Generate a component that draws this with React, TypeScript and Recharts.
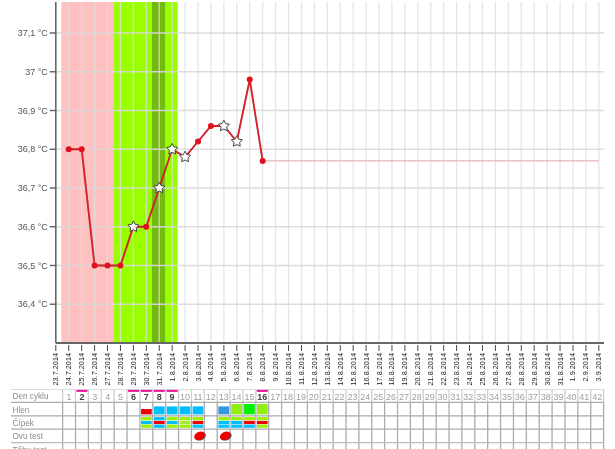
import React from "react";
import {
  ComposedChart, Line, XAxis, YAxis, ReferenceArea, ReferenceLine, Scatter,
} from "recharts";

const dates = [
  "23.7.2014","24.7.2014","25.7.2014","26.7.2014","27.7.2014","28.7.2014","29.7.2014","30.7.2014","31.7.2014",
  "1.8.2014","2.8.2014","3.8.2014","4.8.2014","5.8.2014","6.8.2014","7.8.2014","8.8.2014","9.8.2014","10.8.2014",
  "11.8.2014","12.8.2014","13.8.2014","14.8.2014","15.8.2014","16.8.2014","17.8.2014","18.8.2014","19.8.2014",
  "20.8.2014","21.8.2014","22.8.2014","23.8.2014","24.8.2014","25.8.2014","26.8.2014","27.8.2014","28.8.2014",
  "29.8.2014","30.8.2014","31.8.2014","1.9.2014","2.9.2014","3.9.2014",
];
const temperatures = [36.8, 36.8, 36.5, 36.5, 36.5, 36.6, 36.6, 36.7, 36.8, 36.78, 36.82, 36.86, 36.86, 36.82, 36.98, 36.77];
const starDays = [6, 8, 9, 10, 13, 14];
const lastValue = 36.77;
const yTicks = [36.4, 36.5, 36.6, 36.7, 36.8, 36.9, 37, 37.1];
const yLabels = ["36,4 °C", "36,5 °C", "36,6 °C", "36,7 °C", "36,8 °C", "36,9 °C", "37 °C", "37,1 °C"];

const rowLabels = ["Den cyklu", "Hlen", "Čípek", "Ovu test", "Těhu test"];
const boldDays = [2, 6, 7, 8, 9, 16];
const RED = "#f00000", CYAN = "#00bfff", LIME = "#99f000", PALE = "#a5e83c";
const hlenDays = [7, 8, 9, 10, 11, 13, 14, 15, 16];
const hlenColors = [RED, CYAN, CYAN, CYAN, CYAN, "#3399dd", "#90ee10", "#00f000", "#90ee10"];
const cipekDays = [7, 8, 9, 10, 11, 13, 14, 15, 16];
const cipekTop = [LIME, CYAN, LIME, LIME, LIME, LIME, LIME, LIME, LIME];
const cipekMid = [CYAN, RED, CYAN, PALE, RED, CYAN, CYAN, RED, RED];
const cipekBottom = [LIME, CYAN, LIME, LIME, CYAN, CYAN, CYAN, CYAN, LIME];
const ovuDays = [11, 13];

const indices = dates.map((_, i) => i);
const chartData = dates.map((d, i) => {
  const t = i >= 1 && i <= temperatures.length ? temperatures[i - 1] : null;
  const rest = i >= temperatures.length ? lastValue : null;
  return { i, date: d, t, rest, star: starDays.includes(i) };
});
const dayList = Array.from({ length: 42 }, (_, i) => i + 1);
const columnEdges = Array.from({ length: 43 }, (_, i) => i + 0.5);
const rowEdges = [0, 1, 2, 3, 4, 5];

const starPath = (cx: number, cy: number, R: number, r: number) => {
  let d = "";
  for (let k = 0; k < 10; k++) {
    const rad = k % 2 === 0 ? R : r;
    const a = -Math.PI / 2 + (k * Math.PI) / 5;
    d += (k === 0 ? "M" : "L") + (cx + rad * Math.cos(a)).toFixed(2) + " " + (cy + rad * Math.sin(a)).toFixed(2);
  }
  return d + "Z";
};

const TempDot = (p: any) => {
  const { cx, cy, payload } = p;
  if (cx == null || cy == null || payload.t == null) return <g />;
  if (payload.star)
    return <path d={starPath(cx, cy, 5.8, 3)} fill="#fff" stroke="#444" strokeWidth={1} />;
  return <circle cx={cx} cy={cy} r={3} fill="#e0101c" />;
};

const DateTick = (p: any) => {
  const { x, y, payload } = p;
  return (
    <g>
      <line x1={x} x2={x} y1={y - 8} y2={y - 2} stroke="#444" strokeWidth={1} />
      <text
        transform={`translate(${x + 2.5},${y}) rotate(-90)`}
        textAnchor="end"
        fontSize={7.3}
        fontFamily="Liberation Sans"
        fill="#222"
      >
        {dates[payload.value]}
      </text>
    </g>
  );
};

const HlenShape = (p: any) => {
  const { cx, cy, payload } = p;
  const isRed = payload.color === RED;
  const tall = payload.color === "#90ee10" || payload.color === "#00f000";
  const h = isRed ? 5.4 : tall ? 10.4 : 8;
  return <rect x={cx - 5.3} y={cy + 5.3 - h} width={10.7} height={h} fill={payload.color} />;
};
const CipekShape = (p: any) => {
  const { cx, cy, payload } = p;
  return (
    <g>
      <rect x={cx - 5.3} y={cy - 5.4} width={10.7} height={3.2} fill={payload.top} />
      <rect x={cx - 5.3} y={cy - 1.6} width={10.7} height={3.2} fill={payload.mid} />
      <rect x={cx - 5.3} y={cy + 2.1} width={10.7} height={3.2} fill={payload.bottom} />
    </g>
  );
};
const OvuShape = (p: any) => {
  const { cx, cy } = p;
  return (
    <g transform={`translate(${cx + 1.6},${cy}) rotate(-25)`}>
      <ellipse cx={0.8} cy={0.8} rx={5.6} ry={4} fill="#555" />
      <ellipse cx={0} cy={0} rx={5.6} ry={4.1} fill="#ee0000" />
    </g>
  );
};
const MarkShape = (p: any) => {
  const { cx, cy } = p;
  return <rect x={cx - 5.5} y={cy - 1} width={11} height={2} fill="#ee1199" />;
};

const DayTick = (p: any) => {
  const { x, y, payload } = p;
  const bold = boldDays.includes(payload.value);
  return (
    <text
      x={x}
      y={y + 3}
      textAnchor="middle"
      fontSize={9}
      fontFamily="Liberation Sans"
      fontWeight={bold ? 700 : 400}
      fill={bold ? "#444" : "#a0a0a0"}
    >
      {payload.value}
    </text>
  );
};
const RowTick = (p: any) => {
  const { y, payload } = p;
  return (
    <text x={12.5} y={y + 3.5} fontSize={8.2} fontFamily="Liberation Sans" fill="#8c8c8c">
      {rowLabels[Math.floor(payload.value)]}
    </text>
  );
};

const hlenData = hlenDays.map((x, k) => ({ x, y: 1.5, color: hlenColors[k] }));
const cipekData = cipekDays.map((x, k) => ({ x, y: 2.5, top: cipekTop[k], mid: cipekMid[k], bottom: cipekBottom[k] }));
const ovuData = ovuDays.map((x) => ({ x, y: 3.5 }));
const markData = boldDays.map((x) => ({ x, y: 0.14 }));

export default function App() {
  return (
    <div style={{ position: "absolute", left: 0, top: 0, width: 615, height: 449, overflow: "hidden", background: "#fff", filter: "blur(0.35px)" }}>
      <ComposedChart width={615} height={389} data={chartData} margin={{ top: 2, right: 11, left: 0, bottom: 0 }}>
        <ReferenceArea x1={0.43} x2={4.45} y1={36.3} y2={37.18} fill="#ffc0c0" fillOpacity={1} stroke="none" />
        <ReferenceArea x1={4.45} x2={9.43} y1={36.3} y2={37.18} fill="#99ff00" fillOpacity={1} stroke="none" />
        <ReferenceArea x1={7.44} x2={8.45} y1={36.3} y2={37.18} fill="#73b912" fillOpacity={1} stroke="none" />
        {indices.slice(1).map((i) => (
          <ReferenceLine key={i} x={i} stroke="#dedede" strokeWidth={1.3} strokeOpacity={0.8} />
        ))}
        {yTicks.map((v) => (
          <ReferenceLine key={v} y={v} stroke="#d8d8d8" strokeWidth={1.3} strokeOpacity={0.9} />
        ))}
        <XAxis
          dataKey="i"
          type="number"
          domain={[0, 42.4]}
          ticks={indices}
          interval={0}
          allowDataOverflow
          height={46}
          tick={<DateTick />}
          tickLine={false}
          tickSize={8}
          axisLine={{ stroke: "#666", strokeWidth: 2 }}
        />
        <YAxis
          type="number"
          domain={[36.3, 37.18]}
          ticks={yTicks}
          interval={0}
          allowDataOverflow
          width={55.8}
          tickFormatter={(v: number) => yLabels[yTicks.indexOf(v)]}
          tick={{ fontSize: 9, fontFamily: "Liberation Sans", fill: "#555" }}
          tickSize={6}
          tickMargin={2}
          tickLine={{ stroke: "#666", strokeWidth: 1.5 }}
          axisLine={{ stroke: "#666", strokeWidth: 1.6 }}
        />
        <Line dataKey="rest" stroke="#e4b4b8" strokeWidth={1.2} dot={false} isAnimationActive={false} connectNulls={false} />
        <Line
          dataKey="t"
          stroke="#d8202a"
          strokeWidth={1.8}
          dot={<TempDot />}
          activeDot={false}
          isAnimationActive={false}
          connectNulls={false}
          style={{ filter: "drop-shadow(0.6px 0.6px 0.5px rgba(0,0,0,0.22))" }}
        />
      </ComposedChart>
      <ComposedChart width={615} height={67} margin={{ top: 0, right: 11.4, left: 0, bottom: 0 }} style={{ position: "absolute", left: 0, top: 389 }}>
        {columnEdges.map((x) => (
          <ReferenceLine key={`a${x}`} segment={[{ x, y: 0 }, { x, y: 1 }]} stroke="#cfcfcf" strokeWidth={1.3} />
        ))}
        {columnEdges.map((x) => (
          <ReferenceLine key={`b${x}`} segment={[{ x, y: 1 }, { x, y: 5 }]} stroke="#ababab" strokeWidth={1.3} />
        ))}
        {rowEdges.map((y) => (
          <ReferenceLine key={y} y={y} stroke={y === 0 ? "#d0d0d0" : y === 4 ? "#bbb" : "#ababab"} strokeWidth={1.3} />
        ))}
        <XAxis
          xAxisId={0}
          type="number"
          dataKey="x"
          orientation="top"
          mirror
          domain={[-3.51, 42.5]}
          ticks={dayList}
          interval={0}
          allowDataOverflow
          axisLine={false}
          tickLine={false}
          tick={<DayTick />}
        />
        <YAxis
          type="number"
          dataKey="y"
          reversed
          domain={[0, 5]}
          ticks={[0.5, 1.5, 2.5, 3.5, 4.5]}
          interval={0}
          allowDataOverflow
          width={11}
          axisLine={false}
          tickLine={false}
          tick={<RowTick />}
        />
        <Scatter data={markData} dataKey="y" shape={<MarkShape />} isAnimationActive={false} />
        <Scatter data={hlenData} dataKey="y" shape={<HlenShape />} isAnimationActive={false} />
        <Scatter data={cipekData} dataKey="y" shape={<CipekShape />} isAnimationActive={false} />
        <Scatter data={ovuData} dataKey="y" shape={<OvuShape />} isAnimationActive={false} />
      </ComposedChart>
    </div>
  );
}
